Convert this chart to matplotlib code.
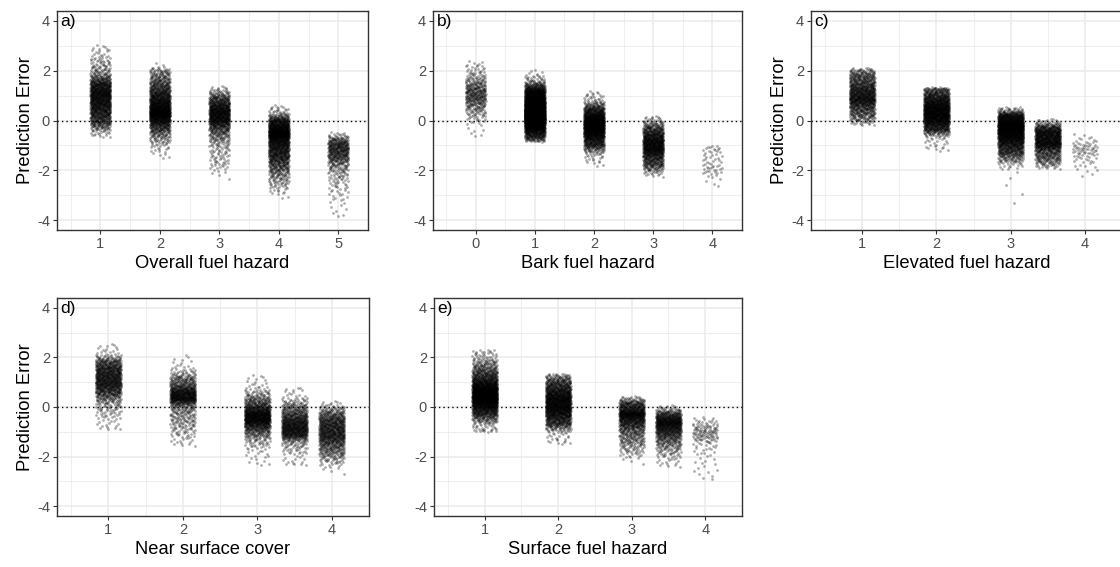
import numpy as np
import matplotlib
matplotlib.use("Agg")
import matplotlib.pyplot as plt

plt.rcParams["font.family"] = ["Liberation Sans", "DejaVu Sans"]
plt.rcParams["axes.unicode_minus"] = False

# quantile levels used for every group
probs = [0.0, 0.003, 0.02, 0.1, 0.25, 0.5, 0.75, 0.9, 0.98, 0.997, 1.0]

# a) Overall fuel hazard
a_levels = [1, 2, 3, 4, 5]
a_counts = [1200, 1500, 1000, 1500, 500]
a_quant = [[-0.7, -0.6, -0.35, 0.0, 0.4, 0.9, 1.35, 1.75, 2.5, 2.95, 3.05],
           [-1.55, -1.3, -0.85, -0.3, 0.1, 0.45, 0.95, 1.45, 1.95, 2.15, 2.4],
           [-2.5, -2.1, -1.7, -0.75, -0.2, 0.2, 0.55, 0.85, 1.15, 1.35, 1.45],
           [-3.15, -2.9, -2.5, -1.85, -1.3, -0.7, -0.35, -0.05, 0.25, 0.55, 0.65],
           [-3.85, -3.8, -3.2, -2.3, -1.7, -1.3, -1.0, -0.8, -0.6, -0.45, -0.4]]

# b) Bark fuel hazard
b_levels = [0, 1, 2, 3, 4]
b_counts = [400, 3000, 1500, 1000, 60]
b_quant = [[-0.7, -0.6, -0.1, 0.35, 0.7, 1.05, 1.4, 1.75, 2.2, 2.4, 2.8],
           [-0.85, -0.8, -0.65, -0.3, 0.0, 0.3, 0.7, 1.1, 1.45, 1.8, 2.1],
           [-1.85, -1.65, -1.25, -0.9, -0.55, -0.2, 0.1, 0.4, 0.75, 1.1, 1.2],
           [-2.3, -2.2, -2.0, -1.7, -1.35, -1.0, -0.65, -0.35, -0.05, 0.15, 0.2],
           [-2.75, -2.7, -2.6, -2.2, -2.0, -1.7, -1.3, -1.1, -1.0, -0.97, -0.95]]

# c) Elevated fuel hazard
c_levels = [1, 2, 3, 3.5, 4]
c_counts = [1000, 1500, 1800, 1000, 80]
c_quant = [[-0.2, -0.15, 0.0, 0.3, 0.65, 1.0, 1.4, 1.75, 2.0, 2.1, 2.15],
           [-1.25, -1.1, -0.6, -0.3, 0.0, 0.35, 0.7, 1.0, 1.25, 1.32, 1.35],
           [-3.6, -1.95, -1.6, -1.2, -0.8, -0.4, -0.1, 0.15, 0.35, 0.5, 0.55],
           [-1.95, -1.9, -1.75, -1.45, -1.1, -0.8, -0.5, -0.3, -0.1, 0.05, 0.1],
           [-2.35, -2.3, -2.1, -1.75, -1.45, -1.2, -1.0, -0.8, -0.55, -0.42, -0.4]]

# d) Near surface cover
d_levels = [1, 2, 3, 3.5, 4]
d_counts = [1000, 900, 1100, 900, 900]
d_quant = [[-0.9, -0.85, -0.4, 0.3, 0.7, 1.1, 1.5, 1.8, 2.1, 2.5, 2.6],
           [-1.6, -1.5, -1.15, -0.5, 0.15, 0.45, 0.75, 1.1, 1.5, 2.0, 2.3],
           [-2.35, -2.2, -1.6, -1.05, -0.7, -0.4, -0.1, 0.25, 0.7, 1.2, 1.35],
           [-2.35, -2.3, -1.85, -1.3, -1.05, -0.75, -0.4, -0.05, 0.35, 0.75, 0.85],
           [-2.85, -2.5, -2.2, -1.8, -1.4, -1.0, -0.6, -0.3, 0.0, 0.2, 0.3]]

# e) Surface fuel hazard
e_levels = [1, 2, 3, 3.5, 4]
e_counts = [2000, 1500, 1000, 900, 150]
e_quant = [[-1.0, -0.95, -0.6, -0.2, 0.15, 0.5, 0.9, 1.35, 1.9, 2.25, 2.35],
           [-1.5, -1.4, -0.95, -0.6, -0.25, 0.15, 0.55, 0.9, 1.2, 1.32, 1.35],
           [-2.4, -2.1, -1.8, -1.3, -0.8, -0.4, -0.15, 0.1, 0.3, 0.42, 0.45],
           [-2.45, -2.35, -2.0, -1.5, -1.1, -0.75, -0.5, -0.3, -0.1, 0.05, 0.1],
           [-2.95, -2.9, -2.75, -2.0, -1.4, -1.1, -0.85, -0.65, -0.45, -0.37, -0.35]]

W, H = 1120, 567
fig = plt.figure(figsize=(W / 100, H / 100), dpi=100)


def px_rect(l, r, t, b):
    return [l / W, 1 - b / H, (r - l) / W, (b - t) / H]


def halton(n, base):
    out = np.zeros(n)
    for k in range(n):
        i, f, r = k + 1, 1.0, 0.0
        while i > 0:
            f /= base
            r += f * (i % base)
            i //= base
        out[k] = r
    return out


def pchip(xk, yk, x):
    # monotone cubic through the read quantiles (smoother than np.interp)
    xk = np.asarray(xk, float)
    yk = np.asarray(yk, float)
    h = np.diff(xk)
    d = np.diff(yk) / h
    m = np.zeros_like(yk)
    m[0], m[-1] = d[0], d[-1]
    for k in range(1, len(xk) - 1):
        if d[k - 1] * d[k] > 0:
            w1 = 2 * h[k] + h[k - 1]
            w2 = h[k] + 2 * h[k - 1]
            m[k] = (w1 + w2) / (w1 / d[k - 1] + w2 / d[k])
    j = np.clip(np.searchsorted(xk, x) - 1, 0, len(xk) - 2)
    t = (x - xk[j]) / h[j]
    h00 = 2 * t**3 - 3 * t**2 + 1
    h10 = t**3 - 2 * t**2 + t
    h01 = -2 * t**3 + 3 * t**2
    h11 = t**3 - t**2
    return h00 * yk[j] + h10 * h[j] * m[j] + h01 * yk[j + 1] + h11 * h[j] * m[j + 1]


def jitter_pts(center, n, quant, half=0.17):
    u = halton(n, 2)
    v = halton(n, 3)
    y = pchip(probs, quant, u)
    x = center + (v - 0.5) * 2 * half
    return x, y


def panel(rect, tag, xlabel, levels, counts, quant, xticks, xlim, ylab=True):
    ax = fig.add_axes(rect)
    ax.set_facecolor("white")
    ax.set_xlim(*xlim)
    ax.set_ylim(-4.4, 4.4)
    ax.set_xticks(xticks)
    ax.set_xticks([t - 0.5 for t in xticks] + [xticks[-1] + 0.5], minor=True)
    ax.set_yticks([-4, -2, 0, 2, 4])
    ax.set_yticks([-3, -1, 1, 3], minor=True)
    ax.grid(which="major", color="#EBEBEB", lw=1.1, zorder=0)
    ax.grid(which="minor", color="#EBEBEB", lw=0.6, zorder=0)
    ax.set_axisbelow(True)
    ax.axhline(0, color="black", lw=1, ls=(0, (1, 2.2)), zorder=1)
    for lv, n, q in zip(levels, counts, quant):
        x, y = jitter_pts(lv, n, q)
        ax.scatter(x, y, s=4, c="black", alpha=0.32, linewidths=0, zorder=2)
    for s in ax.spines.values():
        s.set_color("#333333")
        s.set_linewidth(1.0)
    ax.tick_params(which="major", length=3, color="#333333", labelsize=10.5,
                   labelcolor="#4D4D4D", pad=2)
    ax.tick_params(which="minor", length=0)
    ax.set_xlabel(xlabel, fontsize=13.2, labelpad=3)
    if ylab:
        ax.set_ylabel("Prediction Error", fontsize=13.2, labelpad=2)
    ax.text(0.012, 0.985, tag, transform=ax.transAxes, fontsize=12.5,
            va="top", ha="left")
    return ax


panel(px_rect(57, 368, 11, 230), "a)", "Overall fuel hazard",
      a_levels, a_counts, a_quant, [1, 2, 3, 4, 5], (0.27, 5.38))
panel(px_rect(433, 742, 11, 230), "b)", "Bark fuel hazard",
      b_levels, b_counts, b_quant, [0, 1, 2, 3, 4], (-0.72, 4.31), ylab=False)
panel(px_rect(811, 1122, 11, 230), "c)", "Elevated fuel hazard",
      c_levels, c_counts, c_quant, [1, 2, 3, 4], (0.31, 4.33))
panel(px_rect(57, 369, 298, 516), "d)", "Near surface cover",
      d_levels, d_counts, d_quant, [1, 2, 3, 4], (0.31, 4.32))
panel(px_rect(434, 742, 298, 516), "e)", "Surface fuel hazard",
      e_levels, e_counts, e_quant, [1, 2, 3, 4], (0.31, 4.29), ylab=False)

fig.savefig("out.png", dpi=100)
